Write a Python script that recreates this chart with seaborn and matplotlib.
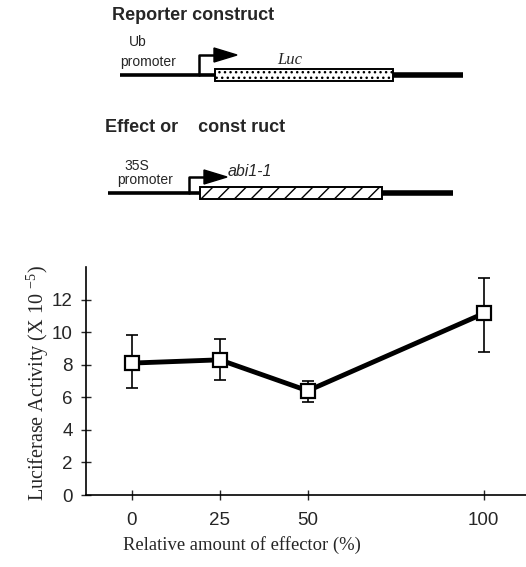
import numpy as np
import pandas as pd
import seaborn as sns
import matplotlib.pyplot as plt
from matplotlib.patches import Rectangle, Polygon

# data
effector_pct = [0, 25, 50, 100]
activity = [8.1, 8.3, 6.4, 11.15]
err_low = [6.55, 7.05, 5.7, 8.8]
err_high = [9.85, 9.55, 7.0, 13.3]
x_ticks = [0, 25, 50, 100]
y_ticks = [0, 2, 4, 6, 8, 10, 12]

df = pd.DataFrame({'effector': effector_pct, 'activity': activity})

sns.set_style('ticks')
plt.rcParams['font.family'] = ['Liberation Sans', 'DejaVu Sans']
plt.rcParams['mathtext.default'] = 'regular'

fig = plt.figure(figsize=(5.26, 5.67), dpi=100)

# construct diagrams, drawn in pixel coordinates
ax_d = fig.add_axes([0, 1 - 240 / 567, 1, 240 / 567])
ax_d.set_xlim(0, 526)
ax_d.set_ylim(240, 0)
ax_d.axis('off')


def construct(ax, y, x0, xb0, xb1, x1, stem_x, arrow_y, hatch):
    ax.plot([x0, xb0], [y, y], color='black', lw=2.6, solid_capstyle='butt')
    ax.plot([xb1, x1], [y, y], color='black', lw=4, solid_capstyle='butt')
    ax.add_patch(Rectangle((xb0, y - 6), xb1 - xb0, 12, facecolor='white',
                           edgecolor='black', lw=1.4, hatch=hatch))
    ax.plot([stem_x, stem_x, stem_x + 16], [y, arrow_y, arrow_y], color='black', lw=1.8)
    ax.add_patch(Polygon([(stem_x + 15, arrow_y - 7), (stem_x + 38, arrow_y),
                          (stem_x + 15, arrow_y + 7)], closed=True, color='black'))


ax_d.text(112, 16, 'Reporter construct', fontsize=13, fontweight='bold', va='center')
construct(ax_d, 75, 120, 215, 393, 463, 199, 55, '...')
ax_d.text(138, 42, 'Ub', fontsize=10, ha='center', va='center')
ax_d.text(148, 62, 'promoter', fontsize=10, ha='center', va='center')
ax_d.text(290, 60, 'Luc', fontsize=12, ha='center', va='center', style='italic',
          family=['Liberation Serif'])

ax_d.text(105, 127, 'Effect or    const ruct', fontsize=13, fontweight='bold', va='center')
construct(ax_d, 193, 108, 200, 382, 453, 189, 177, '//')
ax_d.text(137, 166, '35S', fontsize=10, ha='center', va='center')
ax_d.text(145, 180, 'promoter', fontsize=10, ha='center', va='center')
ax_d.text(250, 172, 'abi1-1', fontsize=11.5, ha='center', va='center', style='italic')

# chart
ax = fig.add_axes([86 / 526, 1 - 495 / 567, 1 - 86 / 526, 228 / 567])
yerr = np.array([np.array(activity) - np.array(err_low),
                 np.array(err_high) - np.array(activity)])
ax.errorbar(effector_pct, activity, yerr=yerr, fmt='none', ecolor='black',
            elinewidth=1.2, capsize=4, capthick=1.2, zorder=2)
sns.lineplot(data=df, x='effector', y='activity', ax=ax, color='black', lw=3.5,
             marker='s', markersize=10, markerfacecolor='white',
             markeredgecolor='black', markeredgewidth=1.6, zorder=3)

ax.set_xlim(-13, 112)
ax.set_ylim(0, 14)
ax.set_xticks(x_ticks)
ax.set_yticks(y_ticks)
ax.tick_params(axis='both', direction='inout', length=7, width=1, labelsize=13.5)
ax.tick_params(axis='x', pad=9)
ax.tick_params(axis='y', pad=6)
for s in ['top', 'right']:
    ax.spines[s].set_visible(False)
for s in ['left', 'bottom']:
    ax.spines[s].set_linewidth(1.2)
    ax.spines[s].set_color('black')
ax.set_xlabel('')
ax.set_ylabel('')

fig.text(38 / 526, 1 - 383 / 567, 'Luciferase Activity (X 10 $^{-5}$)', rotation=90,
         ha='center', va='center', fontsize=14.5, family=['Liberation Serif'])
fig.text(242 / 526, 1 - 545 / 567, 'Relative amount of effector (%)',
         ha='center', va='center', fontsize=13.4, family=['Liberation Serif'])

fig.savefig('out.png', dpi=100)
